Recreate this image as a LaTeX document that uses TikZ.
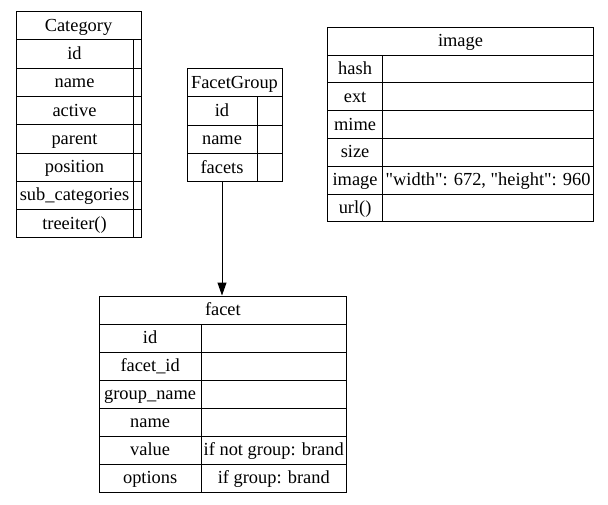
\documentclass[tikz,border=0pt]{standalone}
\usepackage{fontspec}
\setmainfont{Liberation Serif}
\usetikzlibrary{arrows.meta}
\begin{document}
\begin{tikzpicture}[x=1pt,y=-1pt,
  cell/.style={draw=black, line width=1pt, rectangle, inner sep=0pt, anchor=center,
    text height=13pt, text depth=2pt,
    font=\fontsize{18.4}{22}\selectfont},
  link/.style={draw=black, line width=1pt, -{Triangle[length=13pt,width=9pt]}}]
\useasboundingbox[fill=white] (0,0) rectangle (608,504);

% Category
\node[cell, minimum width=125, minimum height=28.3] (cat) at (78.5,25.65) {Category};
\foreach \i/\t in {1/id,2/name,3/active,4/parent,5/position,6/sub\_categories,7/treeiter()}{
  \pgfmathsetmacro{\yy}{11.5+28.3*\i+14.15}
  \node[cell, minimum width=117, minimum height=28.3] (cat-k\i) at (74.5,\yy) {\t};
  \node[cell, minimum width=8, minimum height=28.3] (cat-v\i) at (137,\yy) {};
}

% FacetGroup
\node[cell, minimum width=95, minimum height=28.4] (fg) at (234.5,82.5) {FacetGroup};
\foreach \i/\t in {1/id,2/name,3/facets}{
  \pgfmathsetmacro{\yy}{68.3+28.4*\i+14.2}
  \node[cell, minimum width=70, minimum height=28.4] (fg-k\i) at (222,\yy) {\t};
  \node[cell, minimum width=25, minimum height=28.4] (fg-v\i) at (269.5,\yy) {};
}

% image
\node[cell, minimum width=266, minimum height=27.8] (img) at (460.5,41.2) {image};
\foreach \i/\t/\v in {1/hash/,2/ext/,3/mime/,4/size/,5/image/{\textquotedbl width\textquotedbl: 672, \textquotedbl height\textquotedbl: 960},6/url()/}{
  \pgfmathsetmacro{\yy}{27.3+27.8*\i+13.9}
  \node[cell, minimum width=55.2, minimum height=27.8] (img-k\i) at (355.1,\yy) {\t};
  \node[cell, minimum width=210.8, minimum height=27.8] (img-v\i) at (488.1,\yy) {\v};
}

% facet
\node[cell, minimum width=247.2, minimum height=28] (fct) at (222.9,310) {facet};
\foreach \i/\t/\v in {1/id/,2/facet\_id/,3/group\_name/,4/name/,5/value/{if not group: brand},6/options/{if group: brand}}{
  \pgfmathsetmacro{\yy}{296+28*\i+14}
  \node[cell, minimum width=101.7, minimum height=28] (fct-k\i) at (150.15,\yy) {\t};
  \node[cell, minimum width=145.5, minimum height=28] (fct-v\i) at (273.75,\yy) {\v};
}

\draw[link] (fg-k3.south) -- (fg-k3.south |- fct.north);
\end{tikzpicture}
\end{document}
